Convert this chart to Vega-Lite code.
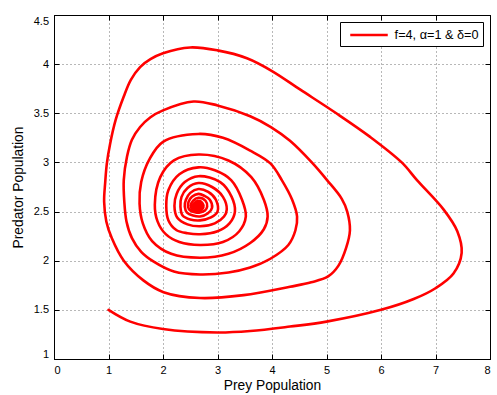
{
  "$schema": "https://vega.github.io/schema/vega-lite/v6.json",
  "width": 436,
  "height": 344,
  "autosize": "none",
  "padding": {"left": 54, "top": 15, "right": 7, "bottom": 36},
  "background": "white",
  "config": {
    "font": "Liberation Sans",
    "view": {"stroke": "black", "strokeWidth": 1},
    "axis": {
      "domainColor": "black",
      "tickColor": "black",
      "labelColor": "black",
      "labelFont": "Liberation Sans",
      "labelFontSize": 11,
      "titleFont": "Liberation Sans",
      "titleFontSize": 13.8,
      "titleFontWeight": "normal",
      "titleColor": "black",
      "gridColor": "#707070",
      "gridDash": [1, 3],
      "gridOpacity": 1
    }
  },
  "data": {
    "values": [
      {"i":0,"x":1.00,"y":1.50},{"i":1,"x":1.40,"y":1.38},{"i":2,"x":2.00,"y":1.305},{"i":3,"x":3.00,"y":1.27},
      {"i":4,"x":3.60,"y":1.285},{"i":5,"x":4.33,"y":1.33},{"i":6,"x":5.00,"y":1.38},{"i":7,"x":6.00,"y":1.50},
      {"i":8,"x":6.60,"y":1.61},{"i":9,"x":7.00,"y":1.72},{"i":10,"x":7.33,"y":1.87},{"i":11,"x":7.48,"y":2.08},
      {"i":12,"x":7.40,"y":2.30},{"i":13,"x":7.15,"y":2.52},{"i":14,"x":6.66,"y":2.82},{"i":15,"x":6.38,"y":3.00},
      {"i":16,"x":5.80,"y":3.26},{"i":17,"x":5.18,"y":3.50},{"i":18,"x":4.52,"y":3.74},{"i":19,"x":4.00,"y":3.93},
      {"i":20,"x":3.54,"y":4.06},{"i":21,"x":3.00,"y":4.14},{"i":22,"x":2.50,"y":4.17},{"i":23,"x":2.00,"y":4.11},
      {"i":23.5,"x":1.77,"y":4.05},{"i":24,"x":1.58,"y":3.97},{"i":24.5,"x":1.41,"y":3.84},{"i":25,"x":1.28,"y":3.67},
      {"i":25.5,"x":1.13,"y":3.43},{"i":26,"x":1.03,"y":3.19},{"i":26.5,"x":0.97,"y":2.99},{"i":27,"x":0.94,"y":2.80},
      {"i":28,"x":0.92,"y":2.60},{"i":29,"x":0.96,"y":2.40},{"i":30,"x":1.06,"y":2.23},{"i":31,"x":1.28,"y":2.00},
      {"i":32,"x":1.64,"y":1.80},{"i":33,"x":2.01,"y":1.68},{"i":34,"x":2.68,"y":1.62},{"i":35,"x":3.48,"y":1.65},
      {"i":36,"x":4.33,"y":1.735},{"i":36.5,"x":4.72,"y":1.78},{"i":37,"x":5.03,"y":1.84},{"i":38,"x":5.22,"y":1.95},{"i":39,"x":5.36,"y":2.13},
      {"i":40,"x":5.43,"y":2.31},{"i":41,"x":5.38,"y":2.50},{"i":42,"x":5.28,"y":2.63},{"i":43,"x":5.01,"y":2.82},
      {"i":44,"x":4.73,"y":3.00},{"i":45,"x":4.33,"y":3.22},{"i":45.5,"x":3.98,"y":3.36},{"i":46,"x":3.60,"y":3.47},{"i":47,"x":3.00,"y":3.58},
      {"i":48,"x":2.56,"y":3.62},{"i":49,"x":2.00,"y":3.53},{"i":49.5,"x":1.77,"y":3.46},{"i":50,"x":1.58,"y":3.36},{"i":50.5,"x":1.43,"y":3.23},{"i":51,"x":1.34,"y":3.06},
      {"i":52,"x":1.28,"y":2.82},{"i":53,"x":1.29,"y":2.60},{"i":54,"x":1.33,"y":2.40},{"i":55,"x":1.43,"y":2.23},
      {"i":56,"x":1.60,"y":2.09},{"i":57,"x":1.83,"y":1.99},{"i":58,"x":2.20,"y":1.89},{"i":59,"x":2.68,"y":1.86},
      {"i":60,"x":3.20,"y":1.88},{"i":61,"x":3.60,"y":1.93},{"i":62,"x":3.97,"y":2.02},{"i":63,"x":4.30,"y":2.16},
      {"i":64,"x":4.43,"y":2.31},{"i":65,"x":4.46,"y":2.45},{"i":66,"x":4.37,"y":2.62},{"i":67,"x":4.18,"y":2.82},
      {"i":68,"x":3.97,"y":2.99},{"i":69,"x":3.60,"y":3.12},{"i":70,"x":3.10,"y":3.25},{"i":71,"x":2.65,"y":3.29},
      {"i":72,"x":2.00,"y":3.21},{"i":73,"x":1.75,"y":3.03},{"i":74,"x":1.60,"y":2.80},{"i":75,"x":1.57,"y":2.58},
      {"i":76,"x":1.63,"y":2.38},{"i":77,"x":1.80,"y":2.20},{"i":78,"x":2.15,"y":2.07},{"i":79,"x":2.68,"y":2.03},
      {"i":80,"x":3.20,"y":2.07},{"i":81,"x":3.60,"y":2.18},{"i":82,"x":3.85,"y":2.32},{"i":83,"x":3.92,"y":2.45},
      {"i":84,"x":3.85,"y":2.62},{"i":85,"x":3.62,"y":2.85},{"i":86,"x":3.20,"y":3.02},{"i":87,"x":2.65,"y":3.08},
      {"i":88,"x":2.20,"y":3.02},{"i":89,"x":1.95,"y":2.85},{"i":90,"x":1.85,"y":2.57},{"i":91,"x":1.90,"y":2.40},
      {"i":92,"x":2.05,"y":2.27},{"i":93,"x":2.30,"y":2.19},{"i":94,"x":2.68,"y":2.16},{"i":95,"x":3.10,"y":2.19},
      {"i":96,"x":3.40,"y":2.30},{"i":97,"x":3.52,"y":2.45},{"i":98,"x":3.45,"y":2.62},{"i":99,"x":3.25,"y":2.82},
      {"i":100,"x":2.95,"y":2.92},{"i":101,"x":2.65,"y":2.95},{"i":102,"x":2.30,"y":2.88},{"i":103,"x":2.10,"y":2.72},
      {"i":104,"x":2.06,"y":2.56},{"i":105,"x":2.10,"y":2.41},{"i":106,"x":2.25,"y":2.31},{"i":107,"x":2.45,"y":2.28},
      {"i":108,"x":2.68,"y":2.27},{"i":109,"x":3.00,"y":2.30},{"i":110,"x":3.22,"y":2.38},{"i":111,"x":3.32,"y":2.50},
      {"i":112,"x":3.26,"y":2.65},{"i":113,"x":3.05,"y":2.80},{"i":114,"x":2.65,"y":2.86},{"i":115,"x":2.40,"y":2.80},
      {"i":116,"x":2.25,"y":2.68},{"i":117,"x":2.21,"y":2.56},{"i":118,"x":2.26,"y":2.44},{"i":119,"x":2.45,"y":2.37},
      {"i":120,"x":2.68,"y":2.35},{"i":121,"x":2.95,"y":2.38},{"i":122,"x":3.12,"y":2.45},{"i":123,"x":3.17,"y":2.52},
      {"i":124,"x":3.10,"y":2.65},{"i":125,"x":2.90,"y":2.75},{"i":126,"x":2.65,"y":2.79},{"i":127,"x":2.45,"y":2.74},
      {"i":128,"x":2.34,"y":2.65},{"i":129,"x":2.32,"y":2.55},{"i":130,"x":2.36,"y":2.46},{"i":131,"x":2.50,"y":2.42},
      {"i":132,"x":2.68,"y":2.41},{"i":133,"x":2.88,"y":2.44},{"i":134,"x":3.00,"y":2.50},{"i":135,"x":2.97,"y":2.62},
      {"i":136,"x":2.83,"y":2.70},{"i":137,"x":2.65,"y":2.73},{"i":138,"x":2.50,"y":2.69},{"i":139,"x":2.42,"y":2.62},
      {"i":140,"x":2.40,"y":2.55},{"i":141,"x":2.44,"y":2.49},{"i":142,"x":2.55,"y":2.46},{"i":143,"x":2.68,"y":2.45},
      {"i":144,"x":2.82,"y":2.48},{"i":145,"x":2.90,"y":2.54},{"i":146,"x":2.86,"y":2.62},{"i":147,"x":2.76,"y":2.66},
      {"i":148,"x":2.65,"y":2.68},{"i":149,"x":2.53,"y":2.65},{"i":150,"x":2.47,"y":2.60},{"i":151,"x":2.46,"y":2.55},
      {"i":152,"x":2.50,"y":2.51},{"i":153,"x":2.60,"y":2.49},{"i":154,"x":2.68,"y":2.49},{"i":155,"x":2.77,"y":2.51},
      {"i":156,"x":2.81,"y":2.55},{"i":157,"x":2.78,"y":2.61},{"i":158,"x":2.65,"y":2.64},{"i":159,"x":2.55,"y":2.61},
      {"i":160,"x":2.51,"y":2.56},{"i":161,"x":2.55,"y":2.52},{"i":162,"x":2.67,"y":2.51},{"i":163,"x":2.74,"y":2.54},
      {"i":164,"x":2.72,"y":2.59},{"i":165,"x":2.64,"y":2.61},{"i":166,"x":2.57,"y":2.58},{"i":167,"x":2.55,"y":2.55},
      {"i":168,"x":2.60,"y":2.53},{"i":169,"x":2.67,"y":2.53},{"i":170,"x":2.70,"y":2.555},{"i":171,"x":2.68,"y":2.58},
      {"i":172,"x":2.63,"y":2.585},{"i":173,"x":2.59,"y":2.56},{"i":174,"x":2.62,"y":2.54},{"i":175,"x":2.67,"y":2.545},
      {"i":176,"x":2.67,"y":2.565},{"i":177,"x":2.63,"y":2.57},{"i":178,"x":2.61,"y":2.555},{"i":179,"x":2.64,"y":2.55},
      {"i":180,"x":2.65,"y":2.555}
    ]
  },
  "layer": [
    {
      "mark": {"type": "line", "interpolate": "catmull-rom", "strokeWidth": 2.6, "strokeCap": "round", "strokeJoin": "round", "clip": true},
      "encoding": {
        "x": {
          "field": "x", "type": "quantitative",
          "scale": {"domain": [0, 8], "nice": false, "zero": false},
          "axis": {"values": [0,1,2,3,4,5,6,7,8], "format": "~g", "title": "Prey Population", "grid": true, "tickSize": -5, "labelPadding": 10.5, "titlePadding": 3}
        },
        "y": {
          "field": "y", "type": "quantitative",
          "scale": {"domain": [1, 4.5], "nice": false, "zero": false},
          "axis": {"values": [1,1.5,2,2.5,3,3.5,4,4.5], "format": "~g", "title": "Predator Population", "grid": true, "tickSize": -5, "labelPadding": 10.5, "labelFlush": true, "titlePadding": 8}
        },
        "order": {"field": "i"},
        "color": {
          "datum": "f=4, α=1 & δ=0", "type": "nominal",
          "scale": {"range": ["#ff0000"]},
          "legend": {
            "title": null, "orient": "top-right", "offset": 7,
            "symbolType": "M -2.5 0 L 2.5 0", "symbolSize": 225, "symbolStrokeWidth": 2.6,
            "symbolOffset": 16, "labelOffset": 16.6,
            "strokeColor": "black", "fillColor": "white", "padding": 4, "cornerRadius": 0,
            "labelFont": "Liberation Sans", "labelFontSize": 12.7, "labelColor": "black"
          }
        }
      }
    },
    {
      "mark": {"type": "point", "opacity": 0},
      "encoding": {
        "x": {"field": "x", "type": "quantitative", "axis": {"orient": "top", "values": [0,1,2,3,4,5,6,7,8], "labels": false, "title": null, "grid": false, "tickSize": -5}},
        "y": {"field": "y", "type": "quantitative", "axis": {"orient": "right", "values": [1,1.5,2,2.5,3,3.5,4,4.5], "labels": false, "title": null, "grid": false, "tickSize": -5}}
      }
    }
  ],
  "resolve": {"axis": {"x": "independent", "y": "independent"}}
}
